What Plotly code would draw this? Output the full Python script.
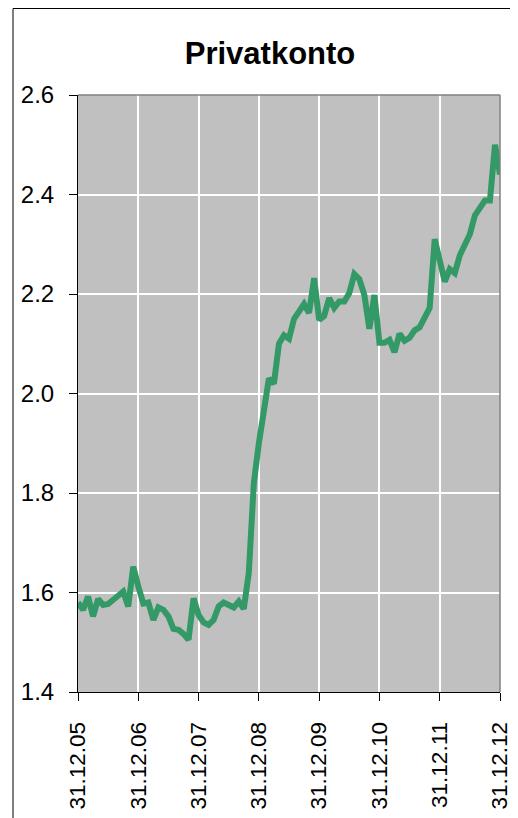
import plotly.graph_objects as go

# Monthly values, 31.12.05 .. 31.12.12 (85 points)
month_index = list(range(85))
values = [
    1.580, 1.565, 1.592, 1.552, 1.587, 1.575, 1.577, 1.585, 1.595, 1.602,
    1.572, 1.652, 1.612, 1.578, 1.580, 1.545, 1.570, 1.565, 1.552, 1.527,
    1.525, 1.517, 1.505, 1.588, 1.555, 1.540, 1.535, 1.545, 1.572, 1.580,
    1.575, 1.570, 1.582, 1.567, 1.640, 1.820, 1.900, 1.965, 2.030, 2.020,
    2.100, 2.117, 2.110, 2.150, 2.165, 2.180, 2.162, 2.232, 2.148, 2.156,
    2.192, 2.172, 2.185, 2.185, 2.202, 2.240, 2.230, 2.198, 2.130, 2.198,
    2.102, 2.102, 2.108, 2.083, 2.120, 2.106, 2.112, 2.127, 2.133, 2.152,
    2.172, 2.310, 2.262, 2.225, 2.250, 2.242, 2.278, 2.299, 2.320, 2.358,
    2.373, 2.388, 2.388, 2.500, 2.440,
]

tick_positions = [0, 12, 24, 36, 48, 60, 72, 84]
tick_labels = ["31.12.05", "31.12.06", "31.12.07", "31.12.08",
               "31.12.09", "31.12.10", "31.12.11", "31.12.12"]
y_ticks = [1.4, 1.6, 1.8, 2.0, 2.2, 2.4, 2.6]

fig = go.Figure()
fig.add_trace(go.Scatter(
    x=month_index, y=values, mode="lines",
    line=dict(color="#339966", width=6, shape="linear"),
    hoverinfo="skip", showlegend=False,
))

FONT = "Liberation Sans, Arial, sans-serif"
OFF = 8  # page body margin
W, H = 518 - OFF, 818 - OFF
# plot area in page pixels: x 78..500, y 95..692
L = 78 - OFF
T = 95 - OFF
R = W - (500 - OFF)
B = H - (692 - OFF)
pw, ph = W - L - R, H - T - B

def px_x(p):
    return (p - OFF - L) / pw

def px_y(p):
    return (H - B - (p - OFF)) / ph

fig.update_layout(
    width=W, height=H,
    margin=dict(l=L, r=R, t=T, b=B, autoexpand=False),
    paper_bgcolor="white",
    plot_bgcolor="#C0C0C0",
    title=dict(text="<b>Privatkonto</b>", x=px_x(270), xref="paper",
               y=1 - (53 - OFF) / H, yref="container", xanchor="center", yanchor="middle",
               font=dict(family=FONT, size=31, color="black")),
    xaxis=dict(
        range=[0, 84], tickvals=tick_positions, ticktext=tick_labels,
        tickangle=-90, showgrid=True, gridcolor="white", gridwidth=1.5,
        showline=True, linecolor="black", linewidth=1,
        ticks="outside", ticklen=8, tickcolor="black", tickwidth=1,
        ticklabelstandoff=12,
        tickfont=dict(family=FONT, size=22.5, color="black"),
        zeroline=False, automargin=False,
    ),
    yaxis=dict(
        range=[1.4, 2.6], tickvals=y_ticks, tickformat=".1f",
        showgrid=True, gridcolor="white", gridwidth=1.5,
        showline=True, linecolor="black", linewidth=1,
        ticks="outside", ticklen=8, tickcolor="black", tickwidth=1,
        ticklabelstandoff=10,
        tickfont=dict(family=FONT, size=24, color="black"),
        zeroline=False, automargin=False,
    ),
    shapes=[
        # grey top and right edges of plot area
        dict(type="line", xref="paper", yref="paper", x0=0, x1=1, y0=1, y1=1,
             line=dict(color="#808080", width=1.5), layer="above"),
        dict(type="line", xref="paper", yref="paper", x0=1, x1=1, y0=0, y1=1,
             line=dict(color="#808080", width=1.5), layer="above"),
        # outer chart border (left and top edges visible)
        dict(type="line", xref="paper", yref="paper",
             x0=px_x(13), x1=px_x(13), y0=px_y(840), y1=px_y(8.5),
             line=dict(color="black", width=1), layer="above"),
        dict(type="line", xref="paper", yref="paper",
             x0=px_x(13), x1=px_x(540), y0=px_y(8.5), y1=px_y(8.5),
             line=dict(color="black", width=1), layer="above"),
    ],
)

fig.write_html("out.html")
